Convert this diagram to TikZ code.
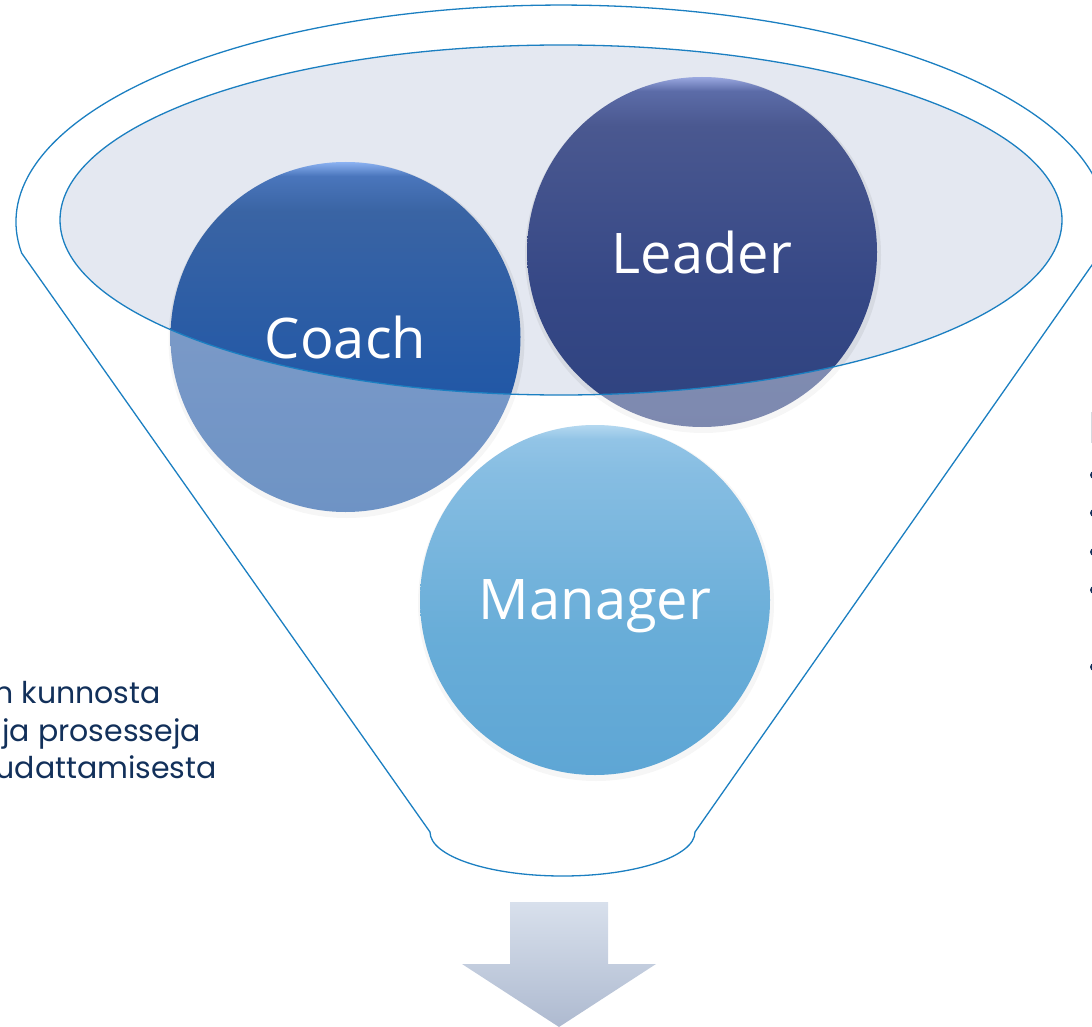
\documentclass[tikz,border=0pt]{standalone}
\usepackage{fontspec}
\setmainfont{Open Sans}
\newfontfamily\poppins{Poppins}
\definecolor{funnelline}{HTML}{1B7FC1}
\definecolor{innerfill}{HTML}{E4E8F1}
\definecolor{navy}{HTML}{12305A}
\definecolor{stemgray}{HTML}{D6D9DF}
\definecolor{arrTop}{HTML}{D8E0EC}
\definecolor{arrBot}{HTML}{AEBAD0}
% coach
\definecolor{cA}{HTML}{1652A2}
\definecolor{cB}{HTML}{2459A6}
\definecolor{cC}{HTML}{3A64A4}
\definecolor{cD}{HTML}{4A76BC}
\definecolor{cE}{HTML}{8CB2F2}
% leader
\definecolor{lA}{HTML}{2E427F}
\definecolor{lB}{HTML}{364886}
\definecolor{lC}{HTML}{4A5890}
\definecolor{lD}{HTML}{5C6CA8}
\definecolor{lE}{HTML}{9AA8E0}
% manager
\definecolor{mA}{HTML}{5EA6D5}
\definecolor{mB}{HTML}{68ADD8}
\definecolor{mC}{HTML}{86BDE2}
\definecolor{mD}{HTML}{92C4E6}
\definecolor{mE}{HTML}{B4D8F0}
\pgfdeclareverticalshading{coachsh}{100bp}{color(0bp)=(cA); color(25bp)=(cA); color(45bp)=(cB); color(68bp)=(cC); color(73bp)=(cD); color(75bp)=(cE); color(100bp)=(cE)}
\pgfdeclareverticalshading{leadersh}{100bp}{color(0bp)=(lA); color(25bp)=(lA); color(45bp)=(lB); color(68bp)=(lC); color(73bp)=(lD); color(75bp)=(lE); color(100bp)=(lE)}
\pgfdeclareverticalshading{managersh}{100bp}{color(0bp)=(mA); color(25bp)=(mA); color(45bp)=(mB); color(68bp)=(mC); color(73bp)=(mD); color(75bp)=(mE); color(100bp)=(mE)}
\begin{document}
\begin{tikzpicture}[x=1pt,y=-1pt,
  ball/.style={circle, minimum size=350pt, inner sep=0pt, draw=none, shade, text=white,
    font=\fontsize{56}{60}\selectfont, text depth=0pt},
  leftline/.style={anchor=base east, text=navy, inner sep=0pt,
    font=\poppins\fontsize{30}{33}\selectfont},
  outline/.style={draw=funnelline, line width=1.3pt},
  bulletdot/.style={circle, fill=navy, inner sep=0pt, minimum size=8pt}]
\useasboundingbox (0,0) rectangle (1092,1027);
% inner ellipse fill
\fill[innerfill] (561,220) ellipse[x radius=501pt, y radius=175pt];
% soft shadows
\fill[black, opacity=0.06] (346.5,340) circle[radius=178pt];
\fill[black, opacity=0.06] (703,255) circle[radius=178pt];
\fill[black, opacity=0.06] (596,603) circle[radius=178pt];
% balls inside the funnel mouth
\node[ball, shading=coachsh] (coach) at (345.5,337) {Coach};
\node[ball, shading=leadersh] (leader) at (702,252) {Leader};
% translucent funnel body
\fill[white, opacity=0.38, even odd rule]
  (21.6,253) arc[start angle=188.2, end angle=-8.2, x radius=545pt, y radius=217pt]
  -- (695,832) arc[start angle=0, end angle=-180, x radius=132.5pt, y radius=44pt] -- cycle
  (561,220) ellipse[x radius=501pt, y radius=175pt];
\node[ball, shading=managersh] (manager) at (595,600) {Manager};
% outlines
\draw[outline]
  (21.6,253) arc[start angle=188.2, end angle=-8.2, x radius=545pt, y radius=217pt]
  -- (695,832) arc[start angle=0, end angle=-180, x radius=132.5pt, y radius=44pt] -- cycle;
\draw[outline] (561,220) ellipse[x radius=501pt, y radius=175pt];
% arrow
\shade[top color=arrTop, bottom color=arrBot]
  (510,902) -- (608,902) -- (608,964) -- (656,964) -- (559,1027) -- (462,964) -- (510,964) -- cycle;
% left text (cut off by the page edge)
\node[leftline] (t1) at (161,703) {n kunnosta};
\node[leftline] (t2) at (201,741) {ja prosesseja};
\node[leftline] (t3) at (217,778) {udattamisesta};
% right side (cut off by the page edge)
\fill[stemgray] (1091,412) rectangle (1093,443);
\node[bulletdot] (b1) at (1094,475) {};
\node[bulletdot] (b2) at (1094,513) {};
\node[bulletdot] (b3) at (1094,552) {};
\node[bulletdot] (b4) at (1094,590) {};
\node[bulletdot] (b5) at (1094,667) {};
\end{tikzpicture}
\end{document}
